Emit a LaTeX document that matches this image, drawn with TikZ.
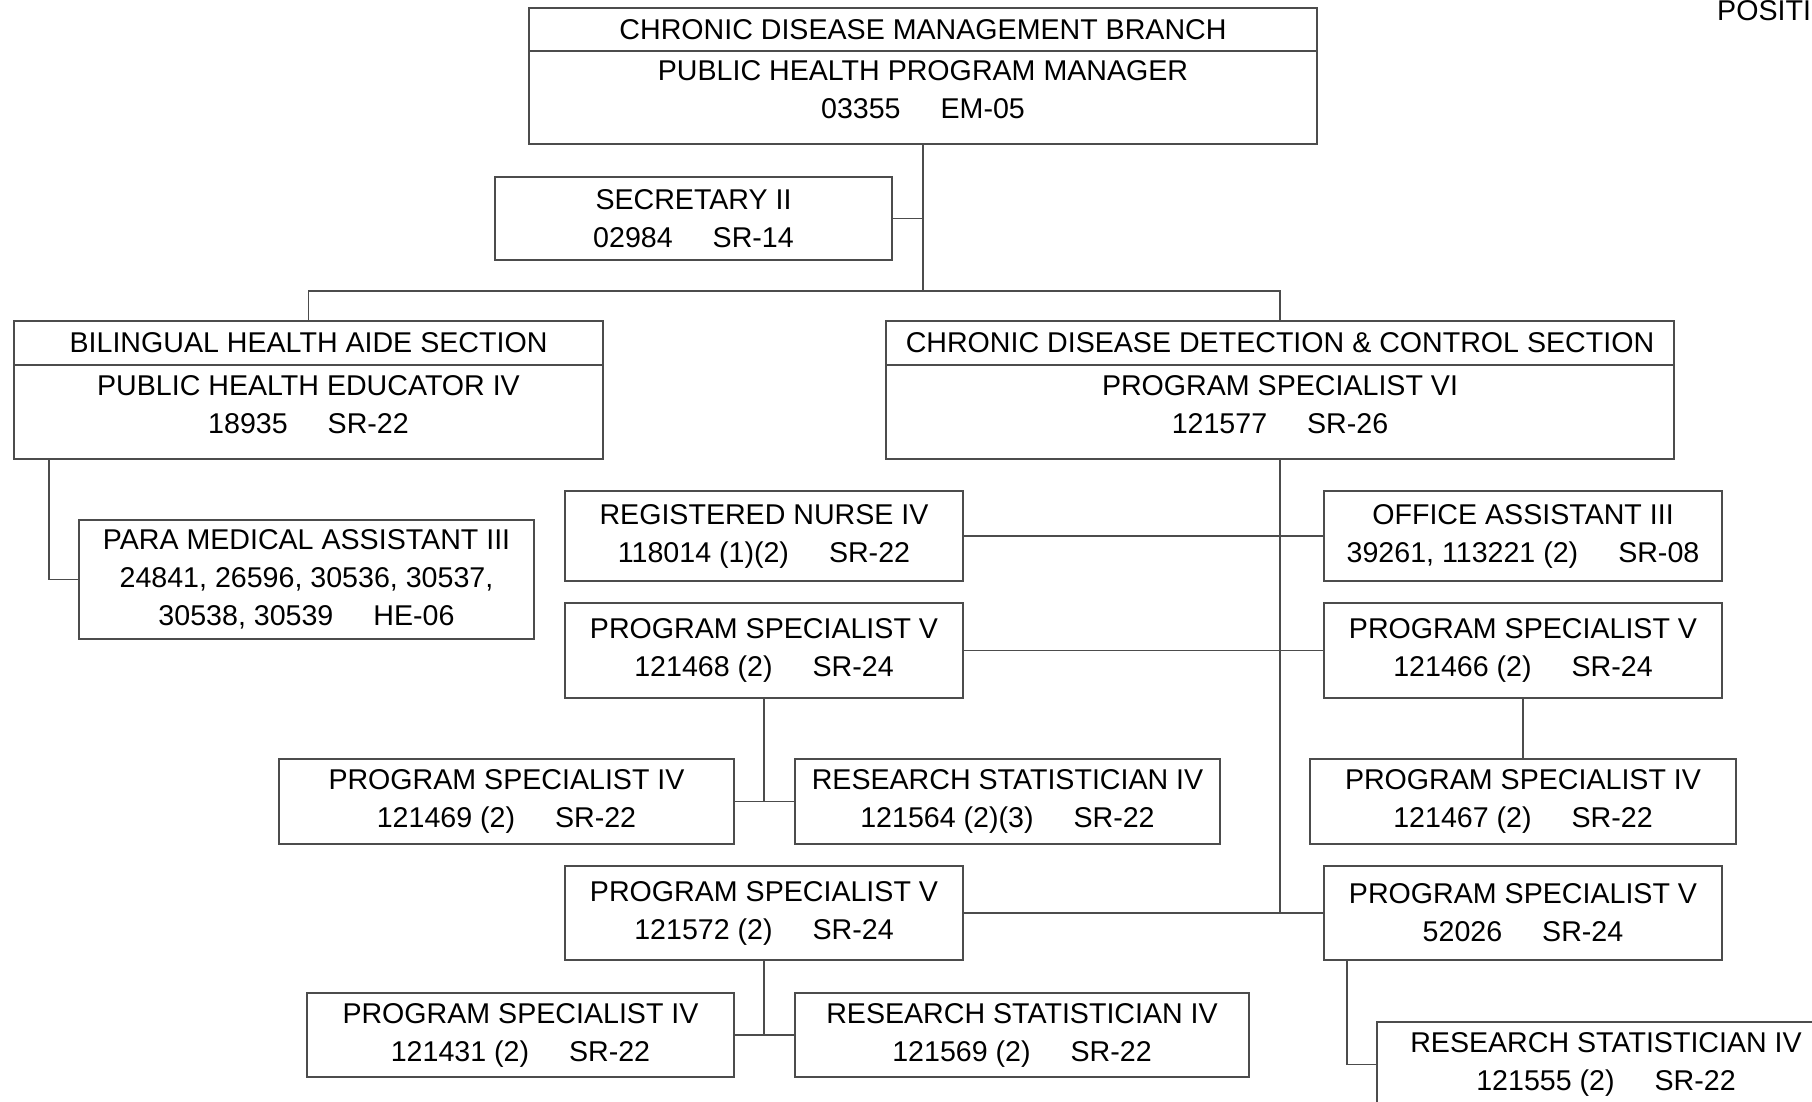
\documentclass[tikz,border=0pt]{standalone}
\usepackage{fontspec}
\setmainfont{Liberation Sans}
\definecolor{linegray}{gray}{0.3}
\newcommand{\posgap}{\hspace{40pt}}
\newcommand{\lift}{\rule[-15pt]{0pt}{0pt}}
\tikzset{
    post/.style={draw=linegray, line width=1.3pt, align=center, inner sep=0pt, outer sep=0pt,
        font=\fontsize{28.6}{38}\selectfont},
    link/.style={draw=linegray, line width=1.3pt},
}
\begin{document}
\begin{tikzpicture}[x=1pt,y=-1pt]
        \useasboundingbox (0,0) rectangle (1812,1101);
        \clip (0,0) rectangle (1812,1101);
        \node[anchor=base west, inner sep=0pt, font=\fontsize{28.6}{38}\selectfont] (title) at (1717,20) {POSITI};
        %% branch and secretary
        \node[post, minimum width=788pt, minimum height=43pt] (branchHead) at (923,29.5) {CHRONIC DISEASE MANAGEMENT BRANCH};
        \node[post, minimum width=788pt, minimum height=93pt] (branch) at (923,97.5) {PUBLIC HEALTH PROGRAM MANAGER\\03355\posgap EM-05\lift};
        \node[post, minimum width=397pt, minimum height=83pt] (secretary) at (693.5,218.5) {SECRETARY II\\02984\posgap SR-14};
        %% sections
        \node[post, minimum width=589pt, minimum height=44pt] (bilingualHead) at (308.5,343) {BILINGUAL HEALTH AIDE SECTION};
        \node[post, minimum width=589pt, minimum height=94pt] (bilingual) at (308.5,412) {PUBLIC HEALTH EDUCATOR IV\\18935\posgap SR-22\lift};
        \node[post, minimum width=788pt, minimum height=44pt] (detectHead) at (1280,343) {CHRONIC DISEASE DETECTION \& CONTROL SECTION};
        \node[post, minimum width=788pt, minimum height=94pt] (detect) at (1280,412) {PROGRAM SPECIALIST VI\\121577\posgap SR-26\lift};
        \node[post, minimum width=455pt, minimum height=119pt] (paramedic) at (306.5,579.5) {PARA MEDICAL ASSISTANT III\\24841, 26596, 30536, 30537,\\30538, 30539\posgap HE-06};
        %% detection & control staff
        \node[post, minimum width=398pt, minimum height=90pt] (nurse) at (764,536) {REGISTERED NURSE IV\\118014 (1)(2)\posgap SR-22};
        \node[post, minimum width=398pt, minimum height=90pt] (office) at (1523,536) {OFFICE ASSISTANT III\\39261, 113221 (2)\posgap SR-08};
        \node[post, minimum width=398pt, minimum height=95pt] (specA) at (764,650.5) {PROGRAM SPECIALIST V\\121468 (2)\posgap SR-24};
        \node[post, minimum width=398pt, minimum height=95pt] (specB) at (1523,650.5) {PROGRAM SPECIALIST V\\121466 (2)\posgap SR-24};
        \node[post, minimum width=455pt, minimum height=85pt] (specAiv) at (506.5,801.5) {PROGRAM SPECIALIST IV\\121469 (2)\posgap SR-22};
        \node[post, minimum width=425pt, minimum height=85pt] (statA) at (1007.5,801.5) {RESEARCH STATISTICIAN IV\\121564 (2)(3)\posgap SR-22};
        \node[post, minimum width=426pt, minimum height=85pt] (specBiv) at (1523,801.5) {PROGRAM SPECIALIST IV\\121467 (2)\posgap SR-22};
        \node[post, minimum width=398pt, minimum height=94pt] (specC) at (764,913) {PROGRAM SPECIALIST V\\121572 (2)\posgap SR-24};
        \node[post, minimum width=398pt, minimum height=94pt] (specD) at (1523,913) {PROGRAM SPECIALIST V\\52026\posgap SR-24};
        \node[post, minimum width=427pt, minimum height=84pt] (specCiv) at (520.5,1035) {PROGRAM SPECIALIST IV\\121431 (2)\posgap SR-22};
        \node[post, minimum width=454pt, minimum height=84pt] (statC) at (1022,1035) {RESEARCH STATISTICIAN IV\\121569 (2)\posgap SR-22};
        \node[post, minimum width=458pt, minimum height=85pt] (statD) at (1606,1064.5) {RESEARCH STATISTICIAN IV\\121555 (2)\posgap SR-22};
        %% lines
        \coordinate (bus) at (923,291);
        \draw[link] (branch.south) -- (bus);
        \draw[link] (secretary.east) -- (secretary.east -| bus);
        \draw[link] (bilingualHead.north) |- (bus) -| (detectHead.north);
        \draw[link] ([xshift=35pt]bilingual.south west) |- (paramedic.west);
        \draw[link] (detect.south) -- (detect.south |- specC.east);
        \draw[link] (nurse.east) -- (office.west);
        \draw[link] (specA.east) -- (specB.west);
        \draw[link] (specC.east) -- (specD.west);
        \draw[link] (specA.south) -- (specA.south |- specAiv.east);
        \draw[link] (specAiv.east) -- (statA.west);
        \draw[link] (specB.south) -- (specBiv.north);
        \draw[link] (specC.south) -- (specC.south |- specCiv.east);
        \draw[link] (specCiv.east) -- (statC.west);
        \draw[link] ([xshift=23pt]specD.south west) |- (statD.west);
    \end{tikzpicture}
\end{document}
